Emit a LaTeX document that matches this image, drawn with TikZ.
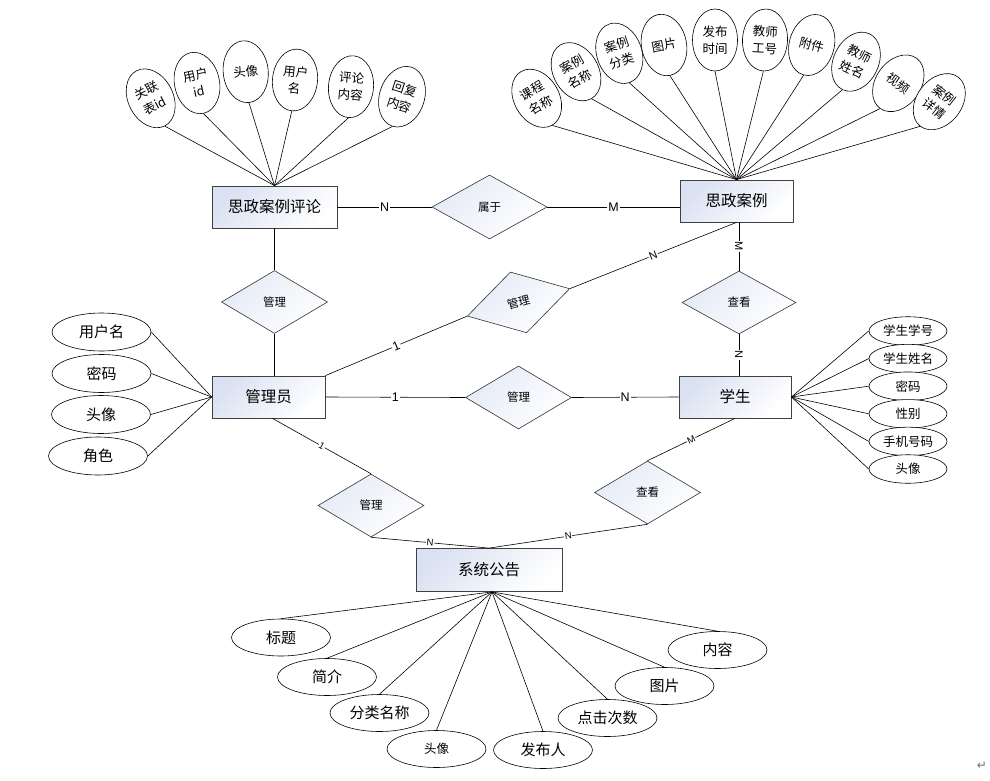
\documentclass[tikz,border=0pt]{standalone}
\usepackage{fontspec}
\setmainfont{Noto Sans CJK SC}
\newfontfamily\lab{Liberation Sans}
\newfontfamily\dv{DejaVu Sans}
\usetikzlibrary{shapes.geometric}
\definecolor{EntBlue}{RGB}{218,225,242}
\begin{document}
\begin{tikzpicture}[x=1pt,y=-1pt,
  ln/.style={draw=black, line width=0.6pt},
  ent/.style={rectangle, draw=black!75, line width=0.8pt, minimum width=#1, minimum height=42pt, inner sep=0pt,
    top color=EntBlue, bottom color=white, shading angle=45, font=\fontsize{15.5}{18}\selectfont},
  dia/.style={diamond, draw=black!80, line width=0.6pt, minimum width=106pt, minimum height=63pt, inner sep=0pt,
    top color=EntBlue!70!white, bottom color=white, shading angle=45, font=\fontsize{11.5}{13}\selectfont},
  tatt/.style={ellipse, draw=black, line width=0.6pt, fill=white, inner sep=0pt, minimum width=45pt, minimum height=62pt,
    align=center, font=\fontsize{12.5}{17}\selectfont},
  latt/.style={ellipse, draw=black, line width=0.6pt, fill=white, inner sep=0pt, minimum width=99pt, minimum height=38pt,
    font=\fontsize{15}{17}\selectfont},
  ratt/.style={ellipse, draw=black, line width=0.6pt, fill=white, inner sep=0pt, minimum width=78pt, minimum height=28.5pt,
    font=\fontsize{12.5}{14}\selectfont},
  batt/.style={ellipse, draw=black, line width=0.6pt, fill=white, inner sep=0pt, minimum width=99pt, minimum height=37pt,
    font=\fontsize{15}{17}\selectfont},
  lbl/.style={fill=white, inner sep=1pt, font=\lab\fontsize{12.5}{13}\selectfont},
  mlbl/.style={fill=white, inner sep=1pt, font=\lab\fontsize{11}{12}\selectfont},
  slbl/.style={fill=white, inner sep=0.6pt, font=\lab\fontsize{9.5}{10}\selectfont}
]
\useasboundingbox (0,0) rectangle (990,781);

% entities
\node[ent=125pt] (pl) at (274.5,207) {思政案例评论};
\node[ent=113pt] (sza) at (736.5,201) {思政案例};
\node[ent=113pt] (gly) at (268.5,397) {管理员};
\node[ent=112pt] (xs) at (735,397) {学生};
\node[ent=146pt, minimum height=43pt] (xtgg) at (489,570) {系统公告};

% relationships
\node[dia, minimum width=115pt, minimum height=64pt] (shy) at (489.5,207) {属于};
\node[dia] (m1) at (274.5,302) {管理};
\node[dia, rotate=15] (m2) at (518.5,302.4) {管理};
\node[dia, minimum width=114pt] (ck1) at (739,302.5) {查看};
\node[dia] (m3) at (518.5,397.5) {管理};
\node[dia] (m4) at (371,505.5) {管理};
\node[dia] (ck2) at (647.5,492.5) {查看};

% connectors
\draw[ln] (pl.east) -- node[lbl]{N} (shy.west);
\draw[ln] (shy.east) -- node[lbl]{M} (shy.east -| sza.west);
\draw[ln] (pl.south) -- (m1.north);
\draw[ln] (m1.south) -- (m1.south |- gly.north);
\draw[ln] (gly.north east) -- node[lbl,sloped]{1} (m2.west);
\draw[ln] (m2.east) -- node[mlbl,sloped]{N} (sza.south);
\draw[ln] (sza.south -| ck1.north) -- node[mlbl,sloped]{M} (ck1.north);
\draw[ln] (ck1.south) -- node[mlbl,sloped]{N} (ck1.south |- xs.north);
\draw[ln] (gly.east) -- node[lbl]{1} (m3.west);
\draw[ln] (m3.east) -- node[lbl]{N} (xs.west);
\draw[ln] ([xshift=4pt]gly.south) -- node[slbl,sloped]{1} (m4.north);
\draw[ln] (m4.south) -- node[slbl,sloped]{N} (xtgg.north);
\draw[ln] (xs.south) -- node[slbl,sloped]{M} (ck2.north);
\draw[ln] (ck2.south) -- node[slbl,sloped]{N} (xtgg.north);

% attributes of 思政案例评论
\node[tatt, rotate=27] (t1) at (150.7,98.3) {关联\\表id};
\node[tatt, rotate=12] (t2) at (197,83) {用户\\id};
\node[tatt, rotate=6] (t3) at (245.7,71.7) {头像};
\node[tatt, rotate=-6] (t4) at (295,80) {用户\\名};
\node[tatt, rotate=-5] (t5) at (351,86.7) {评论\\内容};
\node[tatt, rotate=-18] (t6) at (402,96.7) {回复\\内容};
\foreach \n in {t1,t2,t3,t4,t5,t6} \draw[ln] (\n.south) -- (pl.north);

% attributes of 思政案例
\node[tatt, rotate=30] (r1) at (536.7,98.3) {课程\\名称};
\node[tatt, rotate=30] (r2) at (576,71.7) {案例\\名称};
\node[tatt, rotate=19] (r3) at (619.3,53.3) {案例\\分类};
\node[tatt, rotate=11] (r4) at (664,45) {图片};
\node[tatt] (r5) at (715,40) {发布\\时间};
\node[tatt, rotate=-3] (r6) at (765,40) {教师\\工号};
\node[tatt, rotate=-15] (r7) at (811.7,45) {附件};
\node[tatt, rotate=-26] (r8) at (856,61.7) {教师\\姓名};
\node[tatt, rotate=-36] (r9) at (898.3,83.3) {视频};
\node[tatt, rotate=-38] (r10) at (939.3,101.7) {案例\\详情};
\foreach \n in {r1,r2,r3,r4,r5,r6,r7,r8,r9,r10} \draw[ln] (\n.south) -- (sza.north);

% attributes of 管理员
\node[latt] (g1) at (101.5,332) {用户名};
\node[latt] (g2) at (101.5,373.5) {密码};
\node[latt] (g3) at (101,414.5) {头像};
\node[latt] (g4) at (98,456) {角色};
\foreach \n in {g1,g2,g3,g4} \draw[ln] (\n.east) -- (gly.west);

% attributes of 学生
\node[ratt] (s1) at (908,331) {学生学号};
\node[ratt] (s2) at (908,358.6) {学生姓名};
\node[ratt] (s3) at (908,386.2) {密码};
\node[ratt] (s4) at (908,413.8) {性别};
\node[ratt] (s5) at (908,441.4) {手机号码};
\node[ratt] (s6) at (908,469) {头像};
\foreach \n in {s1,s2,s3,s4,s5,s6} \draw[ln] (xs.east) -- (\n.west);

% attributes of 系统公告
\coordinate (xc) at ([xshift=3pt]xtgg.south);
\node[batt] (b1) at (281,637.5) {标题};
\node[batt] (b2) at (327,677) {简介};
\node[batt] (b3) at (379.5,713) {分类名称};
\node[batt, font=\fontsize{12.5}{14}\selectfont] (b4) at (436.5,749) {头像};
\node[batt] (b5) at (543,750) {发布人};
\node[batt] (b6) at (607.5,718) {点击次数};
\node[batt] (b7) at (664.5,686) {图片};
\node[batt] (b8) at (717.5,650) {内容};
\foreach \n in {b1,b2,b3,b4,b5,b6,b7,b8} \draw[ln] (xc) -- (\n.north);

\node[text=black!55, font=\dv\fontsize{12}{12}\selectfont, inner sep=0pt] (ret) at (982,766) {↵};
\end{tikzpicture}
\end{document}
